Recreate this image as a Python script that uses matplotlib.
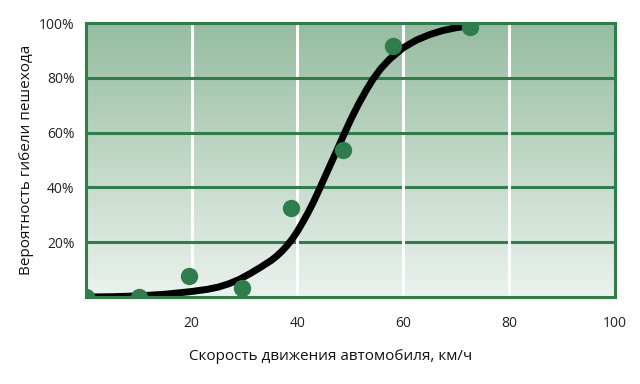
import matplotlib.pyplot as plt
import numpy as np

# observed points
speed = [0, 10, 19.5, 29.6, 38.7, 48.6, 58.0, 72.6]
death = [0, 0, 7.7, 3.4, 32.6, 53.5, 91.5, 98.5]

# fitted curve
curve_x = [0, 5, 10, 15, 20, 23, 25, 27, 29, 31.1, 33, 35, 36, 37, 38, 39, 40, 41, 42, 43, 44.2, 45.8, 47.4, 48.7,
	50, 51.5, 53, 54.3, 55.8, 57.4, 60, 62.5, 65, 67.5, 70, 72.6]
curve_y = [0, 0.1, 0.4, 1.0, 2.0, 2.8, 3.6, 4.8, 6.4, 8.6, 10.8, 13.3, 14.8, 16.6, 18.7, 21.1, 24.0, 27.3, 30.8, 34.6, 39.6,
	46.5, 53.3, 59, 64.5, 70.3, 75.5, 79.6, 83.5, 86.8, 91, 93.8, 95.8, 97.3, 98.3, 99]

xticks = [20, 40, 60, 80, 100]
yticks = [20, 40, 60, 80, 100]

green = '#2f7d4b'

plt.rcParams['font.family'] = ['Open Sans', 'DejaVu Sans']

fig = plt.figure(figsize=(6.4, 3.84), dpi=100)
ax = fig.add_axes([0.134, 0.2266, 0.827, 0.7134])

# background gradient
top = np.array([0.59, 0.74, 0.63])
bot = np.array([0.92, 0.95, 0.93])
t = np.linspace(0, 1, 256)[:, None]
grad = (top * (1 - t) + bot * t)[:, None, :]
ax.imshow(grad, extent=[0, 100, 0, 100], aspect='auto', zorder=0)

for v in [20, 40, 60, 80]:
	ax.axvline(v, color='white', lw=2.2, zorder=1)
	ax.axhline(v, color=green, lw=2.2, zorder=1)

ax.plot(curve_x, curve_y, color='black', lw=5, solid_capstyle='butt', solid_joinstyle='round', zorder=3)
ax.plot(speed, death, 'o', color=green, ms=12.5, mec='none', zorder=4)

ax.set_xlim(0, 100)
ax.set_ylim(0, 100)
ax.set_xticks(xticks)
ax.set_xticklabels([str(v) for v in xticks])
ax.set_yticks(yticks)
ax.set_yticklabels(["{}%".format(v) for v in yticks])
ax.tick_params(length=0, labelsize=10, colors='#222222')
ax.tick_params(axis='x', pad=14)
ax.tick_params(axis='y', pad=8)

for s in ax.spines.values():
	s.set_color(green)
	s.set_linewidth(2.2)
	s.set_zorder(5)

ax.set_xlabel("Скорость движения автомобиля, км/ч", fontsize=11, color='#111111')
ax.xaxis.set_label_coords(0.462, -0.19)
ax.set_ylabel("Вероятность гибели пешехода", fontsize=11, color='#111111')
ax.yaxis.set_label_coords(-0.097, 0.5)

fig.savefig('out.png', dpi=100)
